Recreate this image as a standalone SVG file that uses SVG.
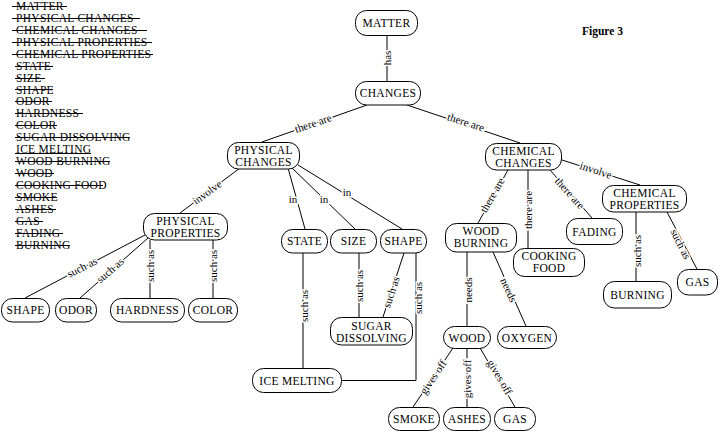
<svg xmlns="http://www.w3.org/2000/svg" width="721" height="432" viewBox="0 0 721 432">
<style>
text{font-family:"Liberation Serif","Times New Roman",serif;fill:#000}
.nt{font-size:11.5px;text-anchor:middle;letter-spacing:0.3px}
.lt{font-size:11.5px;letter-spacing:0.3px}
.lb{font-size:11px;text-anchor:middle;dominant-baseline:central;stroke:#fff;stroke-width:3;paint-order:stroke}
rect{fill:#fff;stroke:#000;stroke-width:1}
line,polyline{stroke:#000;stroke-width:1;fill:none}
.st{stroke:#000;stroke-width:1}
</style>
<rect x="0" y="0" width="721" height="432" style="stroke:none"/>
<g id="word-list">
<text class="lt" x="16" y="9.8">MATTER</text><line class="st" x1="12" y1="6.5" x2="67" y2="6.5"/>
<text class="lt" x="16" y="21.8">PHYSICAL CHANGES</text><line class="st" x1="12" y1="18.5" x2="140" y2="18.5"/>
<text class="lt" x="16" y="33.7">CHEMICAL CHANGES</text><line class="st" x1="12" y1="30.5" x2="147" y2="30.5"/>
<text class="lt" x="16" y="45.7">PHYSICAL PROPERTIES</text><line class="st" x1="12" y1="42.5" x2="152" y2="42.5"/>
<text class="lt" x="16" y="57.6">CHEMICAL PROPERTIES</text><line class="st" x1="12" y1="54.5" x2="153" y2="54.5"/>
<text class="lt" x="16" y="69.6">STATE</text><line class="st" x1="15" y1="66.5" x2="53" y2="66.5"/>
<text class="lt" x="16" y="81.5">SIZE</text><line class="st" x1="15" y1="78.5" x2="45" y2="78.5"/>
<text class="lt" x="16" y="93.5">SHAPE</text><line class="st" x1="15" y1="89.5" x2="53" y2="89.5"/>
<text class="lt" x="16" y="105.4">ODOR</text><line class="st" x1="15" y1="101.5" x2="52" y2="101.5"/>
<text class="lt" x="16" y="117.4">HARDNESS</text><line class="st" x1="15" y1="113.5" x2="83" y2="113.5"/>
<text class="lt" x="16" y="129.3">COLOR</text><line class="st" x1="15" y1="125.5" x2="57" y2="125.5"/>
<text class="lt" x="16" y="141.3">SUGAR DISSOLVING</text><line class="st" x1="15" y1="137.5" x2="130" y2="137.5"/>
<text class="lt" x="16" y="153.2">ICE MELTING</text><line class="st" x1="15" y1="153.5" x2="91" y2="153.5"/>
<text class="lt" x="16" y="165.2">WOOD BURNING</text><line class="st" x1="15" y1="161.5" x2="110" y2="161.5"/>
<text class="lt" x="16" y="177.1">WOOD</text><line class="st" x1="15" y1="173.5" x2="54" y2="173.5"/>
<text class="lt" x="16" y="189.1">COOKING FOOD</text><line class="st" x1="15" y1="185.5" x2="103" y2="185.5"/>
<text class="lt" x="16" y="201">SMOKE</text><line class="st" x1="15" y1="197.5" x2="57" y2="197.5"/>
<text class="lt" x="16" y="213">ASHES</text><line class="st" x1="15" y1="209.5" x2="56" y2="209.5"/>
<text class="lt" x="16" y="224.9">GAS</text><line class="st" x1="15" y1="221.5" x2="43" y2="221.5"/>
<text class="lt" x="16" y="236.9">FADING</text><line class="st" x1="15" y1="233.5" x2="63" y2="233.5"/>
<text class="lt" x="16" y="248.8">BURNING</text><line class="st" x1="15" y1="245.5" x2="70" y2="245.5"/>
</g>
<text x="582" y="35" style="font-size:11.5px;font-weight:bold">Figure 3</text>
<g id="connectors">
<line x1="387" y1="35" x2="387" y2="81"/>
<line x1="367" y1="105" x2="262" y2="142"/>
<line x1="407" y1="105" x2="520" y2="143"/>
<line x1="240" y1="168" x2="180" y2="213"/>
<line x1="288" y1="168" x2="305" y2="229"/>
<line x1="291" y1="167" x2="355" y2="229"/>
<line x1="298" y1="165" x2="402" y2="229"/>
<line x1="303" y1="253" x2="303" y2="368"/>
<line x1="359" y1="253" x2="359" y2="317"/>
<line x1="404" y1="253" x2="383" y2="317"/>
<polyline points="416,253 416,380.5 342,380.5"/>
<line x1="145" y1="235" x2="25" y2="298"/>
<line x1="148" y1="238" x2="80" y2="298"/>
<line x1="150" y1="240" x2="150" y2="298"/>
<line x1="213" y1="240" x2="213" y2="298"/>
<line x1="508" y1="170" x2="478" y2="223"/>
<line x1="528" y1="170" x2="528" y2="248"/>
<line x1="550" y1="170" x2="592" y2="218"/>
<line x1="562" y1="160" x2="640" y2="185"/>
<line x1="636" y1="212" x2="636" y2="281"/>
<line x1="667" y1="212" x2="697" y2="269"/>
<line x1="467" y1="252" x2="467" y2="326"/>
<line x1="493" y1="252" x2="526" y2="326"/>
<line x1="453" y1="348" x2="413" y2="407"/>
<line x1="467" y1="348" x2="467" y2="407"/>
<line x1="480" y1="348" x2="515" y2="407"/>
<text class="lb" transform="translate(387,58) rotate(-90)">has</text>
<text class="lb" transform="translate(313,123) rotate(-19)">there are</text>
<text class="lb" transform="translate(466,122) rotate(18)">there are</text>
<text class="lb" transform="translate(207,192) rotate(-36)">involve</text>
<text class="lb" transform="translate(293,199)">in</text>
<text class="lb" transform="translate(324,199)">in</text>
<text class="lb" transform="translate(347,192)">in</text>
<text class="lb" transform="translate(304,306) rotate(-90)">such as</text>
<text class="lb" transform="translate(359,286) rotate(-90)">such as</text>
<text class="lb" transform="translate(391,292) rotate(-72)">such as</text>
<text class="lb" transform="translate(418,298) rotate(-90)">such as</text>
<text class="lb" transform="translate(82,267) rotate(-27)">such as</text>
<text class="lb" transform="translate(110,270) rotate(-41)">such as</text>
<text class="lb" transform="translate(150,266) rotate(-90)">such as</text>
<text class="lb" transform="translate(213,266) rotate(-90)">such as</text>
<text class="lb" transform="translate(492,195) rotate(-60)">there are</text>
<text class="lb" transform="translate(528,210) rotate(-90)">there are</text>
<text class="lb" transform="translate(570,193) rotate(48)">there are</text>
<text class="lb" transform="translate(596,170) rotate(18)">involve</text>
<text class="lb" transform="translate(637,251) rotate(-90)">such as</text>
<text class="lb" transform="translate(681,244) rotate(63)">such as</text>
<text class="lb" transform="translate(468,290) rotate(-90)">needs</text>
<text class="lb" transform="translate(509,290) rotate(65)">needs</text>
<text class="lb" transform="translate(433,377) rotate(-56)">gives off</text>
<text class="lb" transform="translate(467,379) rotate(-90)">gives off</text>
<text class="lb" transform="translate(500,377) rotate(59)">gives off</text>
</g>
<g id="n-matter"><rect x="355.5" y="10.5" width="62" height="25" rx="11"/><text class="nt" x="386.5" y="27">MATTER</text></g>
<g id="n-changes"><rect x="355.5" y="81.5" width="65" height="23.5" rx="11"/><text class="nt" x="388" y="97">CHANGES</text></g>
<g id="n-physical-changes"><rect x="227.5" y="142.5" width="72" height="26.5" rx="11"/><text class="nt" x="263.5" y="154">PHYSICAL</text><text class="nt" x="263.5" y="166">CHANGES</text></g>
<g id="n-chemical-changes"><rect x="485.5" y="143.5" width="76" height="26.5" rx="11"/><text class="nt" x="523.5" y="155">CHEMICAL</text><text class="nt" x="523.5" y="167">CHANGES</text></g>
<g id="n-chemical-properties"><rect x="602.5" y="185.5" width="84" height="26.5" rx="11"/><text class="nt" x="644.5" y="197">CHEMICAL</text><text class="nt" x="644.5" y="209">PROPERTIES</text></g>
<g id="n-fading"><rect x="566.5" y="218.5" width="56" height="26" rx="11"/><text class="nt" x="594.5" y="235.5">FADING</text></g>
<g id="n-cooking-food"><rect x="513.5" y="248.5" width="71" height="28" rx="11"/><text class="nt" x="549" y="260">COOKING</text><text class="nt" x="549" y="272">FOOD</text></g>
<g id="n-burning"><rect x="603.5" y="281.5" width="68" height="26.5" rx="11"/><text class="nt" x="637.5" y="298.5">BURNING</text></g>
<g id="n-gas-right"><rect x="677.5" y="269.5" width="40" height="25.5" rx="11"/><text class="nt" x="697.5" y="286">GAS</text></g>
<g id="n-wood-burning"><rect x="445.5" y="223.5" width="71" height="28.5" rx="11"/><text class="nt" x="481" y="235">WOOD</text><text class="nt" x="481" y="247">BURNING</text></g>
<g id="n-wood"><rect x="443.5" y="326.5" width="47" height="22" rx="11"/><text class="nt" x="467" y="341.5">WOOD</text></g>
<g id="n-oxygen"><rect x="497.5" y="326.5" width="59" height="22" rx="11"/><text class="nt" x="527" y="341.5">OXYGEN</text></g>
<g id="n-smoke"><rect x="388.5" y="407.5" width="51" height="23" rx="11"/><text class="nt" x="414" y="423">SMOKE</text></g>
<g id="n-ashes"><rect x="443.5" y="407.5" width="47" height="23" rx="11"/><text class="nt" x="467" y="423">ASHES</text></g>
<g id="n-gas-bottom"><rect x="494.5" y="407.5" width="41" height="23" rx="11"/><text class="nt" x="515" y="423">GAS</text></g>
<g id="n-state"><rect x="281.5" y="229.5" width="46" height="23.5" rx="11"/><text class="nt" x="304.5" y="245">STATE</text></g>
<g id="n-size"><rect x="330.5" y="229.5" width="46" height="23.5" rx="11"/><text class="nt" x="353.5" y="245">SIZE</text></g>
<g id="n-shape-mid"><rect x="380.5" y="229.5" width="46" height="23.5" rx="11"/><text class="nt" x="403.5" y="245">SHAPE</text></g>
<g id="n-sugar-dissolving"><rect x="330.5" y="317.5" width="82" height="27.5" rx="11"/><text class="nt" x="371.5" y="330">SUGAR</text><text class="nt" x="371.5" y="342">DISSOLVING</text></g>
<g id="n-ice-melting"><rect x="252.5" y="368.5" width="89" height="24" rx="11"/><text class="nt" x="297" y="384.5">ICE MELTING</text></g>
<g id="n-physical-properties"><rect x="143.5" y="213.5" width="84" height="26.5" rx="11"/><text class="nt" x="185.5" y="225">PHYSICAL</text><text class="nt" x="185.5" y="237">PROPERTIES</text></g>
<g id="n-shape-left"><rect x="1.5" y="298.5" width="48" height="23.5" rx="11"/><text class="nt" x="25.5" y="314">SHAPE</text></g>
<g id="n-odor"><rect x="55.5" y="298.5" width="41" height="23.5" rx="11"/><text class="nt" x="76" y="314">ODOR</text></g>
<g id="n-hardness"><rect x="110.5" y="298.5" width="74" height="23.5" rx="11"/><text class="nt" x="147.5" y="314">HARDNESS</text></g>
<g id="n-color"><rect x="188.5" y="298.5" width="49" height="23.5" rx="11"/><text class="nt" x="213" y="314">COLOR</text></g>
</svg>
